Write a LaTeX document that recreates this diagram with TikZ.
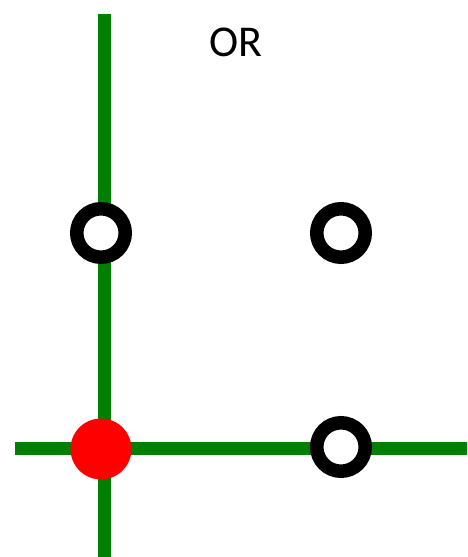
\documentclass[tikz,border=0pt]{standalone}
\usepackage{fontspec}
\setmainfont{Carlito}
\usetikzlibrary{positioning}
\definecolor{lineg}{RGB}{0,128,0}
\tikzset{
  axisline/.style={draw=lineg, line width=13pt},
  opendot/.style={circle, draw=black, line width=13.5pt, fill=white, minimum size=48.5pt, inner sep=0pt},
  reddot/.style={circle, fill=red, minimum size=61pt, inner sep=0pt}
}
\begin{document}
\begin{tikzpicture}[x=1pt,y=1pt]
\useasboundingbox (0,0) rectangle (467,557);
% axes
\coordinate (vtop) at (104,543);
\coordinate (vbot) at (104,0);
\coordinate (hleft) at (15,108);
\coordinate (hright) at (467,108);
\draw[axisline] (vtop) -- (vbot);
\draw[axisline] (hleft) -- (hright);
% points
\node[reddot] (p00) at (101,108) {};
\node[opendot] (p01) at (101,324) {};
\node[opendot] (p11) at (341,324) {};
\node[opendot] (p10) at (341,110) {};
\node (title) at (236,515) {\fontsize{44}{52}\selectfont OR};
\end{tikzpicture}
\end{document}
